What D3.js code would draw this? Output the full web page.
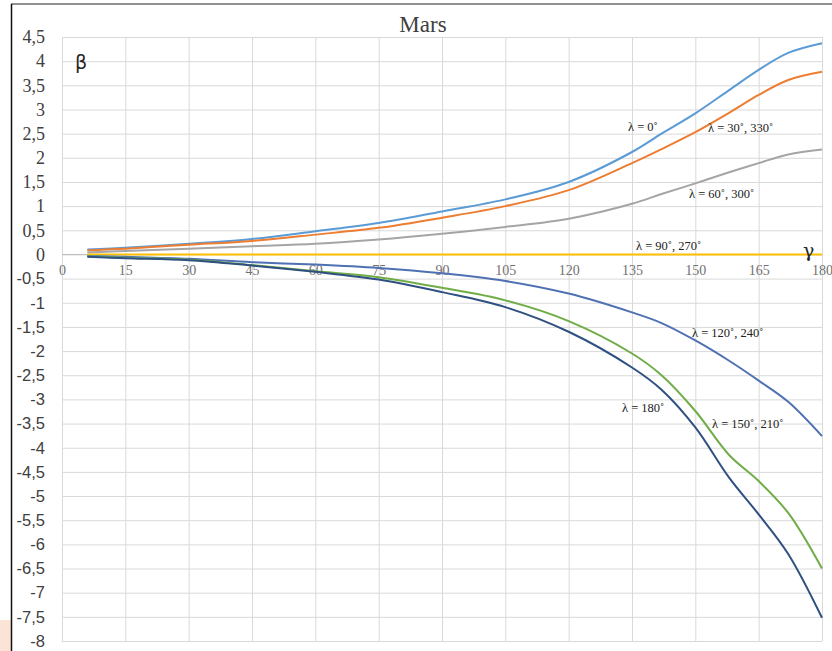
<!DOCTYPE html>
<html>
<head>
<meta charset="utf-8">
<script src="https://cdn.jsdelivr.net/npm/d3@7"></script>
<style>
  body { margin: 0; background: #fff; }
  svg { display: block; }
  .grid line { stroke: #d9d9d9; stroke-width: 1; }
  .grid path { display: none; }
  .curve { fill: none; stroke-width: 2; }
  .lbl { font-family: "Liberation Serif", "Times New Roman", serif; font-size: 12.5px; fill: #222; }
</style>
</head>
<body>
<svg id="vis" width="832" height="651"></svg>
<script>
// phase angle γ (deg) at which the curves were read
var gammas = [6, 15, 30, 45, 60, 75, 90, 105, 120, 135, 142, 150, 158, 165, 172, 180];

var beta0   = [0.10, 0.14, 0.22, 0.32, 0.48, 0.65, 0.89, 1.14, 1.50, 2.12, 2.50, 2.92, 3.40, 3.82, 4.17, 4.37];
var beta30  = [0.08, 0.12, 0.20, 0.28, 0.41, 0.55, 0.76, 1.00, 1.33, 1.89, 2.18, 2.53, 2.93, 3.30, 3.61, 3.78];
var beta60  = [0.04, 0.07, 0.12, 0.17, 0.22, 0.31, 0.43, 0.57, 0.74, 1.05, 1.25, 1.47, 1.70, 1.89, 2.07, 2.17];
var beta90  = [0, 0, 0, 0, 0, 0, 0, 0, 0, 0, 0, 0, 0, 0, 0, 0];
var beta120 = [-0.03, -0.05, -0.09, -0.16, -0.21, -0.28, -0.39, -0.55, -0.81, -1.20, -1.42, -1.78, -2.20, -2.61, -3.05, -3.76];
var beta150 = [-0.04, -0.07, -0.11, -0.22, -0.35, -0.47, -0.69, -0.95, -1.38, -2.05, -2.50, -3.24, -4.15, -4.69, -5.35, -6.50];
var beta180 = [-0.05, -0.08, -0.12, -0.23, -0.36, -0.52, -0.78, -1.09, -1.60, -2.34, -2.80, -3.58, -4.62, -5.38, -6.20, -7.52];

var seriesNames  = ["λ = 0˚", "λ = 30˚, 330˚", "λ = 60˚, 300˚", "λ = 90˚, 270˚", "λ = 120˚, 240˚", "λ = 150˚, 210˚", "λ = 180˚"];
var seriesValues = [beta0, beta30, beta60, beta90, beta120, beta150, beta180];
var seriesColors = ["#5b9bd5", "#ed7d31", "#a5a5a5", "#ffc000", "#4f71b3", "#70ad47", "#2f5081"];

var xTicks = d3.range(0, 181, 15);
var yTicks = d3.range(-8, 4.51, 0.5);

var svg = d3.select("#vis");

var x = d3.scaleLinear().domain([0, 180]).range([62, 822]);
var y = d3.scaleLinear().domain([-8, 4.5]).range([641, 37]);

// frame pieces of the original screenshot
svg.append("rect").attr("x", 0).attr("y", 620).attr("width", 11).attr("height", 31).attr("fill", "#fbe3d5");
svg.append("line").attr("x1", 11).attr("y1", 4).attr("x2", 832).attr("y2", 4)
   .attr("stroke", "#6d6d6d").attr("stroke-width", 1.5);
svg.append("line").attr("x1", 11.5).attr("y1", 4).attr("x2", 11.5).attr("y2", 651)
   .attr("stroke", "#111").attr("stroke-width", 1.5);

// gridlines
svg.append("g")
   .attr("class", "grid")
   .attr("transform", "translate(0," + y(-8) + ")")
   .call(d3.axisBottom(x).tickValues(xTicks).tickSize(-(y(-8) - y(4.5))).tickFormat(""));
svg.append("g")
   .attr("class", "grid")
   .attr("transform", "translate(" + x(0) + ",0)")
   .call(d3.axisLeft(y).tickValues(yTicks).tickSize(-(x(180) - x(0))).tickFormat(""));

// zero axis line
svg.append("line")
   .attr("x1", x(0)).attr("x2", x(180))
   .attr("y1", y(0)).attr("y2", y(0))
   .attr("stroke", "#bfbfbf");

// y tick labels (comma decimals, serif above zero, sans below)
var yAxis = svg.append("g")
   .attr("transform", "translate(45,0)")
   .call(d3.axisLeft(y).tickValues(yTicks).tickSize(0).tickPadding(0)
          .tickFormat(d => String(+d.toFixed(1)).replace(".", ",")));
yAxis.select(".domain").remove();
yAxis.selectAll("text")
     .attr("fill", "#404040")
     .style("font-family", d => d >= 0 ? "'Liberation Serif', serif" : "'Liberation Sans', Arial, sans-serif")
     .style("font-size", d => d >= 0 ? "18px" : "16.5px");

// x tick labels along the zero line
var xAxis = svg.append("g")
   .attr("transform", "translate(0," + y(0) + ")")
   .call(d3.axisBottom(x).tickValues(xTicks).tickSize(0).tickPadding(11));
xAxis.select(".domain").remove();
xAxis.selectAll("text")
     .attr("fill", "#707070")
     .style("font-family", "'Liberation Serif', serif")
     .style("font-size", "14px");

// curves (smoothed like the spreadsheet lines)
var line = d3.line()
   .x((d, i) => x(gammas[i]))
   .y(d => y(d))
   .curve(d3.curveCatmullRom.alpha(0.5));

svg.selectAll("path.curve")
   .data(seriesValues)
   .enter()
   .append("path")
   .attr("class", "curve")
   .attr("stroke", (d, i) => seriesColors[i])
   .attr("d", line);

// curve labels, placed next to the lines as in the original
var labelPos = [[628, 131], [708, 132], [689, 198], [636, 250], [692, 337], [712, 428], [622, 412]];
svg.selectAll("text.lbl")
   .data(seriesNames)
   .enter()
   .append("text")
   .attr("class", "lbl")
   .attr("x", (d, i) => labelPos[i][0])
   .attr("y", (d, i) => labelPos[i][1])
   .text(d => d);

// title and axis symbols
svg.append("text")
   .attr("x", 423).attr("y", 32)
   .attr("text-anchor", "middle")
   .style("font-family", "'Liberation Serif', serif")
   .style("font-size", "23px")
   .attr("fill", "#404040")
   .text("Mars");

svg.append("text")
   .attr("x", 75).attr("y", 69)
   .style("font-family", "'DejaVu Sans', sans-serif")
   .style("font-size", "19px")
   .attr("fill", "#262626")
   .text("β");

svg.append("text")
   .attr("x", 803).attr("y", 257)
   .style("font-family", "'DejaVu Serif', serif")
   .style("font-size", "19px")
   .attr("fill", "#262626")
   .text("γ");
</script>
</body>
</html>
